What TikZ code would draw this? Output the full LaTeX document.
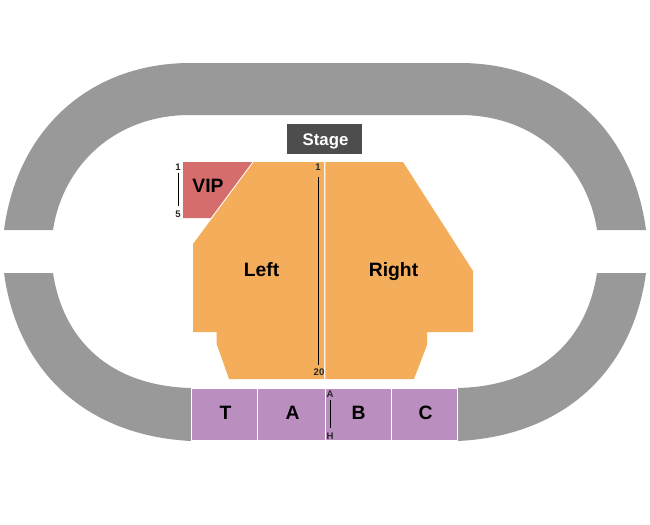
\documentclass[tikz,border=0pt]{standalone}
\usepackage{fontspec}
\setmainfont{Liberation Sans}
\definecolor{ring}{HTML}{999999}
\definecolor{stagec}{HTML}{4D4D4D}
\definecolor{vipc}{HTML}{D66D6D}
\definecolor{floorc}{HTML}{F4AE5B}
\definecolor{backc}{HTML}{BA8FC0}
\tikzset{
  ringpart/.style={fill=ring,draw=none},
  floorpart/.style={fill=floorc,draw=none},
  backpart/.style={fill=backc,draw=white,line width=0.9pt},
  biglabel/.style={font=\fontsize{14.5}{15}\selectfont\bfseries,text=black,inner sep=0pt,anchor=base},
  smalllabel/.style={font=\fontsize{7.2}{8}\selectfont\bfseries,text=black!85,inner sep=0pt,anchor=base},
  rowline/.style={draw=black,line width=0.75pt}
}
\begin{document}
\begin{tikzpicture}[x=0.75pt,y=-0.75pt]
\useasboundingbox (0,0) rectangle (650,525);
\fill[white] (0,0) rectangle (650,525);
% ring
\path[ringpart] (4,230) .. controls (18,125) and (94,63) .. (190,63) -- (460,63)
  .. controls (556,63) and (632,125) .. (646,230) -- (597,230)
  .. controls (587,165) and (535,115) .. (460,115) -- (190,115)
  .. controls (115,115) and (63,165) .. (53,230) -- cycle;
\path[ringpart] (4,273) .. controls (18,375) and (90,436) .. (191,441) -- (191,388)
  .. controls (110,386) and (63,340) .. (53,273) -- cycle;
\path[ringpart] (646,273) .. controls (632,375) and (560,436) .. (458,441) -- (458,388)
  .. controls (540,386) and (587,340) .. (597,273) -- cycle;
% stage
\path[fill=stagec] (287,124) rectangle (362,154);
\node[text=white,inner sep=0pt,anchor=base,
  font=\fontsize{12.6}{13}\selectfont\bfseries] (stage) at (325.5,145.5) {Stage};
% VIP
\path[fill=vipc] (183,162) -- (252.3,162) -- (210.7,218) -- (183,218) -- cycle;
% floor
\path[floorpart] (253.7,162) -- (324,162) -- (324,379) -- (229,379) -- (216.7,344)
  -- (216.7,332) -- (193,332) -- (193,244) -- cycle;
\path[floorpart] (325.3,162) -- (403,162) -- (473,271) -- (473,332) -- (427,332)
  -- (427,345) -- (414,379) -- (325.3,379) -- cycle;
% back sections
\path[backpart] (191.5,388.5) rectangle (257.5,441);
\path[backpart] (257.5,388.5) rectangle (325.5,441);
\path[backpart] (325.5,388.5) rectangle (391.5,441);
\path[backpart] (391.5,388.5) rectangle (457.5,441);
% labels
\node[biglabel] (vip) at (208,192.5) {VIP};
\node[biglabel] (left) at (261.5,276) {Left};
\node[biglabel] (right) at (393.5,276) {Right};
\node[biglabel] (t) at (225.5,419.5) {T};
\node[biglabel] (a) at (292.5,419.5) {A};
\node[biglabel] (b) at (358.5,419.5) {B};
\node[biglabel] (c) at (425.5,419.5) {C};
% row markers
\node[smalllabel] (v1) at (178,170) {1};
\node[smalllabel] (v5) at (178,217) {5};
\draw[rowline] (178.5,172.5) -- (178.5,206);
\node[smalllabel] (f1) at (318,170.5) {1};
\node[smalllabel] (f20) at (319,375.5) {20};
\draw[rowline] (318.7,177) -- (318.7,365);
\node[smalllabel] (ba) at (330,397) {A};
\node[smalllabel] (bh) at (330,439) {H};
\draw[rowline] (330.3,400) -- (330.3,428);
\end{tikzpicture}
\end{document}
